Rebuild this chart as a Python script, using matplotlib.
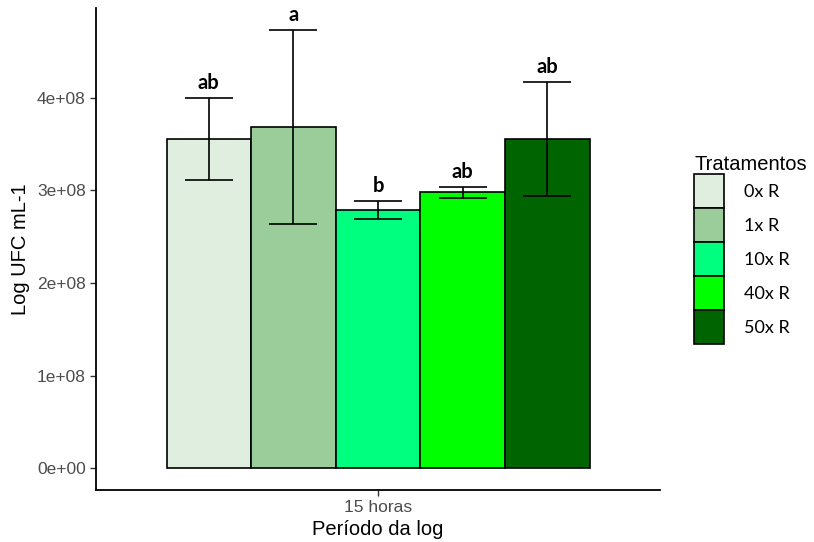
import matplotlib
matplotlib.use("Agg")
import matplotlib.pyplot as plt
from matplotlib.patches import Patch
import numpy as np

# dados: média e desvio por tratamento (15 horas)
tratamentos = ["0x R", "1x R", "10x R", "40x R", "50x R"]
medias = [3.557e8, 3.686e8, 2.79e8, 2.98e8, 3.557e8]
desvios = [0.443e8, 1.05e8, 0.10e8, 0.06e8, 0.62e8]
letras = ["ab", "a", "b", "ab", "ab"]
cores = ["#E0EEE0", "#9BCD9B", "#00FF7F", "#00FF00", "#006400"]
periodo = "15 horas"

plt.rcParams["font.family"] = ["Liberation Sans", "DejaVu Sans"]

fig = plt.figure(figsize=(8.14, 5.42), dpi=100)
ax = fig.add_axes([0.118, 0.096, 0.693, 0.889])

n = len(tratamentos)
w = 0.9 / n
xs = 1 + (np.arange(n) - (n - 1) / 2) * w

ax.bar(xs, medias, width=w, color=cores, edgecolor="black", linewidth=1.2, zorder=2)
ax.errorbar(xs, medias, yerr=desvios, fmt="none", ecolor="black",
            elinewidth=1.2, capsize=17, capthick=1.2, zorder=3)

for x, m, d, l in zip(xs, medias, desvios, letras):
    ax.text(x, m + d + 0.05e8, l, ha="center", va="bottom", fontsize=14.5,
            fontweight="bold", family=["Lato", "DejaVu Sans"])

ax.set_xlim(0.4, 1.6)
ax.set_ylim(-0.237e8, 4.97e8)
ax.set_xticks([1])
ax.set_xticklabels([periodo])
yt = np.arange(0, 5e8, 1e8)
ax.set_yticks(yt)
ax.set_yticklabels([f"{int(v / 1e8)}e+08" if v > 0 else "0e+00" for v in yt])

for s in ["top", "right"]:
    ax.spines[s].set_visible(False)
for s in ["left", "bottom"]:
    ax.spines[s].set_linewidth(1.3)
ax.tick_params(axis="both", colors="#333333", labelcolor="#4D4D4D",
               labelsize=12.5, length=4, width=1)

ax.set_xlabel("Período da log", fontsize=14.5, labelpad=3)
ax.set_ylabel("Log UFC mL-1", fontsize=14.5, labelpad=5)

handles = [Patch(facecolor=c, edgecolor="black", linewidth=1.2) for c in cores]
leg = ax.legend(handles, tratamentos, title="Tratamentos", loc="upper left",
                bbox_to_anchor=(1.048, 0.71), frameon=False,
                title_fontsize=14.5, handlelength=1.66, handleheight=2.52,
                labelspacing=0, handletextpad=1.1, borderaxespad=0,
                prop={"family": ["Lato", "DejaVu Sans"], "size": 13})
leg._legend_box.align = "left"

fig.savefig("out.png", dpi=100)
